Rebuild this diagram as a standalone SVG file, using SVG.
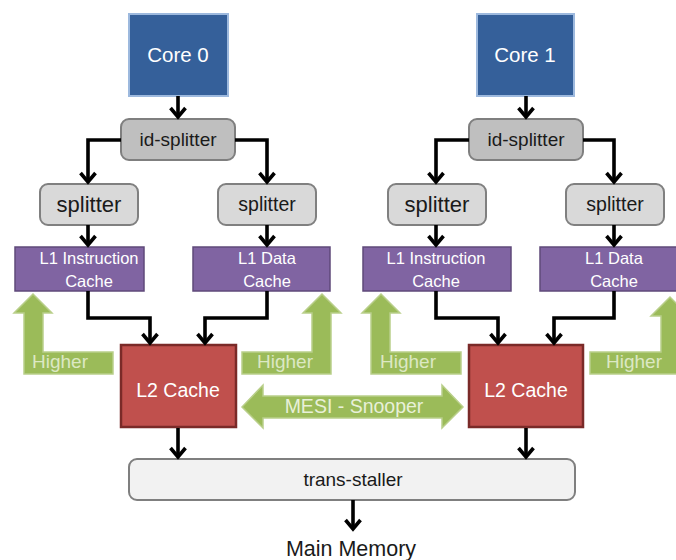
<svg xmlns="http://www.w3.org/2000/svg" width="676" height="560" viewBox="0 0 676 560">
<defs>
<marker id="ah" markerUnits="userSpaceOnUse" markerWidth="22" markerHeight="22" viewBox="-14 -11 22 22" refX="0" refY="0" orient="auto">
<path d="M-9,-7.5 L0,0 L-9,7.5" fill="none" stroke="#000" stroke-width="3.6" stroke-linejoin="miter"/>
</marker>
<style>
text{font-family:"Liberation Sans",Arial,sans-serif;text-anchor:middle}
.core{fill:#35609A;stroke:#9DB9DE;stroke-width:2}
.ids{fill:#BFBFBF;stroke:#7F7F7F;stroke-width:2}
.spl{fill:#D9D9D9;stroke:#808080;stroke-width:2}
.l1{fill:#8064A2;stroke:#5F497A;stroke-width:1.5}
.l2{fill:#C0504D;stroke:#7A2A28;stroke-width:2.5}
.ts{fill:#F2F2F2;stroke:#7F7F7F;stroke-width:2}
.grn{fill:#9BBB59;stroke:#B9CF8A;stroke-width:1.5}
.w{fill:#FFFFFF}
.k{fill:#1A1A1A}
.gt{fill:#DCE8C4}
.conn path{fill:none;stroke:#000;stroke-width:3.6;marker-end:url(#ah)}
</style>
</defs>
<rect width="676" height="560" fill="#FFFFFF"/>

<g id="higher-0a">
<polygon class="grn" points="24,374 113,374 113,352 43,352 43,313 52,313 33,294 14,313 24,313"/>
<text class="gt" x="60" y="368" font-size="19">Higher</text>
</g>
<g id="higher-0b">
<polygon class="grn" points="242,374 331,374 331,313 341,313 322,294 303,313 312,313 312,352 242,352"/>
<text class="gt" x="285" y="368" font-size="19">Higher</text>
</g>
<g id="higher-1a">
<polygon class="grn" points="371,374 461,374 461,352 390,352 390,313 400,313 381,294 362,313 371,313"/>
<text class="gt" x="408" y="368" font-size="19">Higher</text>
</g>
<g id="higher-1b">
<polygon class="grn" points="590,374 681,374 681,316 689,316 670,297 651,316 661,316 661,352 590,352"/>
<text class="gt" x="634" y="368" font-size="19">Higher</text>
</g>
<g id="mesi">
<polygon class="grn" points="242,407 263,385 263,396 442,396 442,385 463,407 442,428 442,418 263,418 263,428"/>
<text x="354" y="413" font-size="19.5" fill="#E8F0D8">MESI - Snooper</text>
</g>

<g id="core0">
<rect class="core" x="129" y="14" width="99" height="82"/>
<text class="w" x="178" y="62" font-size="20.5">Core 0</text>
</g>
<g id="core1">
<rect class="core" x="477" y="14" width="97" height="82"/>
<text class="w" x="525" y="62" font-size="20.5">Core 1</text>
</g>
<g id="idsplit0">
<rect class="ids" x="121" y="119" width="114" height="41" rx="8"/>
<text class="k" x="178" y="146" font-size="19">id-splitter</text>
</g>
<g id="idsplit1">
<rect class="ids" x="469" y="119" width="114" height="41" rx="8"/>
<text class="k" x="526" y="146" font-size="19">id-splitter</text>
</g>
<g id="split0i">
<rect class="spl" x="40" y="184" width="98" height="41" rx="8"/>
<text class="k" x="89" y="212" font-size="22">splitter</text>
</g>
<g id="split0d">
<rect class="spl" x="218" y="184" width="98" height="41" rx="8"/>
<text class="k" x="267" y="211" font-size="19.5">splitter</text>
</g>
<g id="split1i">
<rect class="spl" x="388" y="184" width="98" height="41" rx="8"/>
<text class="k" x="437" y="212" font-size="22">splitter</text>
</g>
<g id="split1d">
<rect class="spl" x="566" y="184" width="98" height="41" rx="8"/>
<text class="k" x="615" y="211" font-size="19.5">splitter</text>
</g>
<g id="l1i0">
<rect class="l1" x="15" y="247" width="129" height="44"/>
<text class="w" x="89" y="264" font-size="16.5">L1 Instruction</text>
<text class="w" x="89" y="287" font-size="16.5">Cache</text>
</g>
<g id="l1d0">
<rect class="l1" x="193" y="247" width="137" height="44"/>
<text class="w" x="267" y="264" font-size="16.5">L1 Data</text>
<text class="w" x="267" y="287" font-size="16.5">Cache</text>
</g>
<g id="l1i1">
<rect class="l1" x="363" y="247" width="148" height="44"/>
<text class="w" x="436" y="264" font-size="16.5">L1 Instruction</text>
<text class="w" x="436" y="287" font-size="16.5">Cache</text>
</g>
<g id="l1d1">
<rect class="l1" x="540" y="247" width="140" height="44"/>
<text class="w" x="614" y="264" font-size="16.5">L1 Data</text>
<text class="w" x="614" y="287" font-size="16.5">Cache</text>
</g>
<g id="l2c0">
<rect class="l2" x="121" y="345" width="115" height="82"/>
<text class="w" x="178" y="397" font-size="19.5">L2 Cache</text>
</g>
<g id="l2c1">
<rect class="l2" x="469" y="345" width="114" height="82"/>
<text class="w" x="526" y="397" font-size="19.5">L2 Cache</text>
</g>
<g id="transstaller">
<rect class="ts" x="129" y="459" width="446" height="41" rx="8"/>
<text class="k" x="353" y="486" font-size="19">trans-staller</text>
</g>
<g id="mainmem">
<text class="k" x="351" y="556" font-size="21.5">Main Memory</text>
</g>

<g id="connectors" class="conn">
<path d="M178,96 V117"/>
<path d="M526,96 V117"/>
<path d="M121,140 H88 V182"/>
<path d="M235,140 H267 V182"/>
<path d="M469,140 H436 V182"/>
<path d="M583,140 H614 V182"/>
<path d="M88,225 V245"/>
<path d="M267,225 V245"/>
<path d="M436,225 V245"/>
<path d="M614,225 V245"/>
<path d="M88,291 V318 H150 V343"/>
<path d="M267,291 V318 H205 V343"/>
<path d="M436,291 V318 H498 V343"/>
<path d="M614,291 V318 H554 V343"/>
<path d="M178,428 V457"/>
<path d="M526,428 V457"/>
<path d="M353,500 V529"/>
</g>
</svg>
